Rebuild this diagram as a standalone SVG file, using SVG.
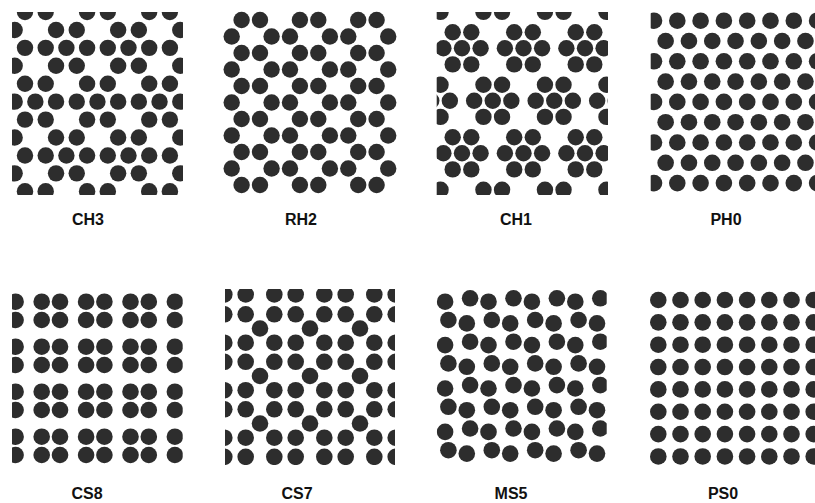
<svg xmlns="http://www.w3.org/2000/svg" width="815" height="503" viewBox="0 0 815 503">
<style>
circle{fill:#2d2d2d}
text{font-family:"Liberation Sans",Arial,sans-serif;font-weight:bold;font-size:16px;fill:#111;text-anchor:middle}
</style>
<defs>
<clipPath id="clipCH3"><rect x="12" y="12" width="171" height="183"/></clipPath>
<clipPath id="clipCH1"><rect x="436.7" y="12" width="171.3" height="183"/></clipPath>
<clipPath id="clipPH0"><rect x="650.7" y="0" width="164.3" height="200"/></clipPath>
<clipPath id="clipCS8"><rect x="12" y="285" width="170.7" height="185"/></clipPath>
<clipPath id="clipCS7"><rect x="225" y="289" width="170" height="176"/></clipPath>
<clipPath id="clipMS5"><rect x="436.7" y="285" width="170" height="185"/></clipPath>
<g id="ch3A"><circle cx="25" cy="0" r="8.2"/><circle cx="45.7" cy="0" r="8.2"/><circle cx="66.4" cy="0" r="8.2"/><circle cx="87.1" cy="0" r="8.2"/><circle cx="107.8" cy="0" r="8.2"/><circle cx="128.5" cy="0" r="8.2"/><circle cx="149.2" cy="0" r="8.2"/><circle cx="169.9" cy="0" r="8.2"/></g>
<g id="ch3C"><circle cx="25" cy="0" r="8.2"/><circle cx="45.7" cy="0" r="8.2"/><circle cx="87.1" cy="0" r="8.2"/><circle cx="107.8" cy="0" r="8.2"/><circle cx="149.2" cy="0" r="8.2"/><circle cx="169.9" cy="0" r="8.2"/></g>
<g id="ch3B"><circle cx="14.65" cy="0" r="8.2"/><circle cx="56.05" cy="0" r="8.2"/><circle cx="76.75" cy="0" r="8.2"/><circle cx="118.15" cy="0" r="8.2"/><circle cx="138.85" cy="0" r="8.2"/><circle cx="180.25" cy="0" r="8.2"/></g>
<g id="ch3D"><circle cx="14.65" cy="0" r="8.2"/><circle cx="35.35" cy="0" r="8.2"/><circle cx="56.05" cy="0" r="8.2"/><circle cx="76.75" cy="0" r="8.2"/><circle cx="97.45" cy="0" r="8.2"/><circle cx="118.15" cy="0" r="8.2"/><circle cx="138.85" cy="0" r="8.2"/><circle cx="159.55" cy="0" r="8.2"/><circle cx="180.25" cy="0" r="8.2"/></g>
<g id="rhP"><circle cx="241.6" cy="0" r="8.2"/><circle cx="260" cy="0" r="8.2"/><circle cx="299.9" cy="0" r="8.2"/><circle cx="318.3" cy="0" r="8.2"/><circle cx="358.2" cy="0" r="8.2"/><circle cx="376.6" cy="0" r="8.2"/></g>
<g id="rhQ"><circle cx="231.7" cy="0" r="8.2"/><circle cx="271.6" cy="0" r="8.2"/><circle cx="290" cy="0" r="8.2"/><circle cx="329.9" cy="0" r="8.2"/><circle cx="348.3" cy="0" r="8.2"/><circle cx="388.2" cy="0" r="8.2"/></g>
<g id="ch1k"><circle cx="-9.3" cy="-16.1" r="8.2"/><circle cx="9.3" cy="-16.1" r="8.2"/><circle cx="-18.6" cy="0" r="8.2"/><circle cx="0" cy="0" r="8.2"/><circle cx="18.6" cy="0" r="8.2"/><circle cx="-9.3" cy="16.1" r="8.2"/><circle cx="9.3" cy="16.1" r="8.2"/></g>
<g id="phO"><circle cx="654" cy="0" r="8.3"/><circle cx="677.3" cy="0" r="8.3"/><circle cx="700.6" cy="0" r="8.3"/><circle cx="723.9" cy="0" r="8.3"/><circle cx="747.2" cy="0" r="8.3"/><circle cx="770.5" cy="0" r="8.3"/><circle cx="793.8" cy="0" r="8.3"/><circle cx="817.1" cy="0" r="8.3"/></g>
<g id="phE"><circle cx="665.65" cy="0" r="8.3"/><circle cx="688.95" cy="0" r="8.3"/><circle cx="712.25" cy="0" r="8.3"/><circle cx="735.55" cy="0" r="8.3"/><circle cx="758.85" cy="0" r="8.3"/><circle cx="782.15" cy="0" r="8.3"/><circle cx="805.45" cy="0" r="8.3"/></g>
<g id="cs8r"><circle cx="-2.7" cy="0" r="8.3"/><circle cx="15.6" cy="0" r="8.3"/><circle cx="41.7" cy="0" r="8.3"/><circle cx="60" cy="0" r="8.3"/><circle cx="86.1" cy="0" r="8.3"/><circle cx="104.4" cy="0" r="8.3"/><circle cx="130.5" cy="0" r="8.3"/><circle cx="148.8" cy="0" r="8.3"/><circle cx="174.9" cy="0" r="8.3"/></g>
<g id="cs7r"><circle cx="224.3" cy="0" r="8.3"/><circle cx="245.7" cy="0" r="8.3"/><circle cx="274.3" cy="0" r="8.3"/><circle cx="295.7" cy="0" r="8.3"/><circle cx="324.3" cy="0" r="8.3"/><circle cx="345.7" cy="0" r="8.3"/><circle cx="374.3" cy="0" r="8.3"/><circle cx="395.7" cy="0" r="8.3"/></g>
<g id="cs7c"><circle cx="260" cy="0" r="8.3"/><circle cx="310" cy="0" r="8.3"/><circle cx="360" cy="0" r="8.3"/></g>
<g id="msA"><circle cx="445.1" cy="1.7" r="8.3"/><circle cx="470.1" cy="-1.7" r="8.3"/><circle cx="488.5" cy="1.7" r="8.3"/><circle cx="513.5" cy="-1.7" r="8.3"/><circle cx="531.9" cy="1.7" r="8.3"/><circle cx="556.9" cy="-1.7" r="8.3"/><circle cx="575.3" cy="1.7" r="8.3"/><circle cx="600.3" cy="-1.7" r="8.3"/></g>
<g id="msB"><circle cx="448.4" cy="-1.7" r="8.3"/><circle cx="466.8" cy="1.7" r="8.3"/><circle cx="491.8" cy="-1.7" r="8.3"/><circle cx="510.2" cy="1.7" r="8.3"/><circle cx="535.2" cy="-1.7" r="8.3"/><circle cx="553.6" cy="1.7" r="8.3"/><circle cx="578.6" cy="-1.7" r="8.3"/><circle cx="597" cy="1.7" r="8.3"/></g>
<g id="psR"><circle cx="658.3" cy="0" r="8.3"/><circle cx="680.5" cy="0" r="8.3"/><circle cx="702.7" cy="0" r="8.3"/><circle cx="724.9" cy="0" r="8.3"/><circle cx="747.1" cy="0" r="8.3"/><circle cx="769.3" cy="0" r="8.3"/><circle cx="791.5" cy="0" r="8.3"/><circle cx="813.7" cy="0" r="8.3"/></g>
</defs>
<rect width="815" height="503" fill="#ffffff"/>
<g id="CH3" clip-path="url(#clipCH3)">
<use href="#ch3C" y="12"/><use href="#ch3B" y="29.93"/><use href="#ch3A" y="47.86"/><use href="#ch3B" y="65.79"/><use href="#ch3C" y="83.72"/><use href="#ch3D" y="101.65"/><use href="#ch3C" y="119.58"/><use href="#ch3B" y="137.51"/><use href="#ch3A" y="155.44"/><use href="#ch3B" y="173.37"/><use href="#ch3C" y="191.3"/>
</g>
<g id="RH2">
<use href="#rhP" y="20"/><use href="#rhQ" y="36.5"/><use href="#rhP" y="53"/><use href="#rhQ" y="69.5"/><use href="#rhP" y="86"/><use href="#rhQ" y="102.5"/><use href="#rhP" y="119"/><use href="#rhQ" y="135.5"/><use href="#rhP" y="152"/><use href="#rhQ" y="168.5"/><use href="#rhP" y="185"/>
</g>
<g id="CH1" clip-path="url(#clipCH1)">
<use href="#ch1k" x="431.25" y="-4.2"/><use href="#ch1k" x="492.75" y="-4.2"/><use href="#ch1k" x="554.25" y="-4.2"/><use href="#ch1k" x="615.75" y="-4.2"/>
<use href="#ch1k" x="462" y="48.3"/><use href="#ch1k" x="523.5" y="48.3"/><use href="#ch1k" x="585" y="48.3"/>
<use href="#ch1k" x="431.25" y="100.8"/><use href="#ch1k" x="492.75" y="100.8"/><use href="#ch1k" x="554.25" y="100.8"/><use href="#ch1k" x="615.75" y="100.8"/>
<use href="#ch1k" x="462" y="153.3"/><use href="#ch1k" x="523.5" y="153.3"/><use href="#ch1k" x="585" y="153.3"/>
<use href="#ch1k" x="431.25" y="205.8"/><use href="#ch1k" x="492.75" y="205.8"/><use href="#ch1k" x="554.25" y="205.8"/><use href="#ch1k" x="615.75" y="205.8"/>
</g>
<g id="PH0" clip-path="url(#clipPH0)">
<use href="#phO" y="20.7"/><use href="#phE" y="41"/><use href="#phO" y="61.3"/><use href="#phE" y="81.6"/><use href="#phO" y="101.9"/><use href="#phE" y="122.2"/><use href="#phO" y="142.5"/><use href="#phE" y="162.8"/><use href="#phO" y="183.1"/>
</g>
<g id="CS8" clip-path="url(#clipCS8)">
<use href="#cs8r" y="301.7"/><use href="#cs8r" y="320"/><use href="#cs8r" y="346.7"/><use href="#cs8r" y="365"/><use href="#cs8r" y="391.7"/><use href="#cs8r" y="410"/><use href="#cs8r" y="436.7"/><use href="#cs8r" y="455"/>
</g>
<g id="CS7" clip-path="url(#clipCS7)">
<use href="#cs7r" y="294.5"/><use href="#cs7r" y="314.3"/><use href="#cs7c" y="328.5"/><use href="#cs7r" y="342.7"/><use href="#cs7r" y="361.8"/><use href="#cs7c" y="376"/><use href="#cs7r" y="390.2"/><use href="#cs7r" y="409.3"/><use href="#cs7c" y="423.5"/><use href="#cs7r" y="437.7"/><use href="#cs7r" y="456.8"/>
</g>
<g id="MS5" clip-path="url(#clipMS5)">
<use href="#msA" y="300"/><use href="#msB" y="321.7"/><use href="#msA" y="343.4"/><use href="#msB" y="365.1"/><use href="#msA" y="386.8"/><use href="#msB" y="408.5"/><use href="#msA" y="430.2"/><use href="#msB" y="451.9"/>
</g>
<g id="PS0">
<use href="#psR" y="300"/><use href="#psR" y="322.35"/><use href="#psR" y="344.7"/><use href="#psR" y="367.05"/><use href="#psR" y="389.4"/><use href="#psR" y="411.75"/><use href="#psR" y="434.1"/><use href="#psR" y="456.45"/>
</g>
<g id="labels">
<text x="88" y="225">CH3</text>
<text x="301" y="225">RH2</text>
<text x="516" y="225">CH1</text>
<text x="726" y="225">PH0</text>
<text x="87" y="499">CS8</text>
<text x="297" y="499">CS7</text>
<text x="511" y="499">MS5</text>
<text x="723" y="499">PS0</text>
</g>
</svg>
